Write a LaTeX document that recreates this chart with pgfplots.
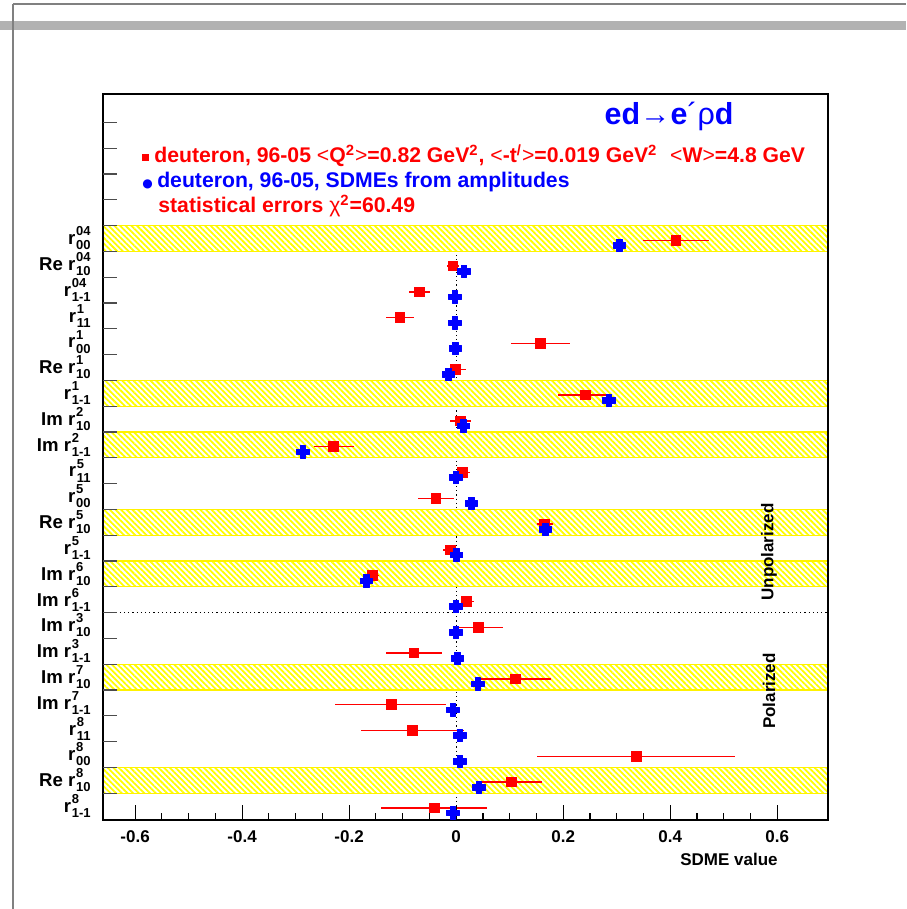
\documentclass[border=0pt]{standalone}
\usepackage{fontspec}
\setmainfont{Liberation Sans}
\newfontfamily\djv{DejaVu Sans}
\usepackage{pgfplots}
\pgfplotsset{compat=1.18}
\usepackage{pgfplotstable}
\usetikzlibrary{patterns.meta}

\pgfdeclareplotmark{fcross}{%
  \pgfpathmoveto{\pgfpoint{0.45\pgfplotmarksize}{\pgfplotmarksize}}%
  \pgfpathlineto{\pgfpoint{0.45\pgfplotmarksize}{0.45\pgfplotmarksize}}%
  \pgfpathlineto{\pgfpoint{\pgfplotmarksize}{0.45\pgfplotmarksize}}%
  \pgfpathlineto{\pgfpoint{\pgfplotmarksize}{-0.45\pgfplotmarksize}}%
  \pgfpathlineto{\pgfpoint{0.45\pgfplotmarksize}{-0.45\pgfplotmarksize}}%
  \pgfpathlineto{\pgfpoint{0.45\pgfplotmarksize}{-\pgfplotmarksize}}%
  \pgfpathlineto{\pgfpoint{-0.45\pgfplotmarksize}{-\pgfplotmarksize}}%
  \pgfpathlineto{\pgfpoint{-0.45\pgfplotmarksize}{-0.45\pgfplotmarksize}}%
  \pgfpathlineto{\pgfpoint{-\pgfplotmarksize}{-0.45\pgfplotmarksize}}%
  \pgfpathlineto{\pgfpoint{-\pgfplotmarksize}{0.45\pgfplotmarksize}}%
  \pgfpathlineto{\pgfpoint{-0.45\pgfplotmarksize}{0.45\pgfplotmarksize}}%
  \pgfpathlineto{\pgfpoint{-0.45\pgfplotmarksize}{\pgfplotmarksize}}%
  \pgfpathclose
  \pgfusepathqfillstroke
}

% r with superscript (#1) and subscript (#2); subscript is never narrower
\newcommand{\R}[2]{r\kern0.4pt\makebox[0pt][l]{\raisebox{4.4pt}{\fontsize{6.5}{6.5}\selectfont #1}}\raisebox{-2.6pt}{\fontsize{6.5}{6.5}\selectfont #2}}

\pgfplotstableread{
y x em ep
0.07 0.411 0.061 0.061
1.07 -0.006 0.011 0.012
2.07 -0.069 0.020 0.021
3.07 -0.105 0.026 0.026
4.07 0.158 0.055 0.055
5.07 -0.001 0.014 0.020
6.07 0.241 0.051 0.051
7.07 0.008 0.019 0.020
8.07 -0.229 0.037 0.039
9.07 0.012 0.012 0.014
10.07 -0.038 0.033 0.034
11.07 0.165 0.014 0.016
12.07 -0.011 0.013 0.012
13.07 -0.157 0.011 0.012
14.07 0.019 0.010 0.015
15.07 0.042 0.045 0.045
16.07 -0.079 0.052 0.053
17.07 0.111 0.067 0.067
18.07 -0.121 0.105 0.102
19.07 -0.082 0.096 0.096
20.07 0.337 0.186 0.184
21.07 0.103 0.057 0.057
22.07 -0.041 0.099 0.099
}\redtab

\pgfplotstableread{
y x
0.27 0.305
1.27 0.015
2.27 -0.002
3.27 -0.002
4.27 -0.001
5.27 -0.014
6.27 0.286
7.27 0.014
8.27 -0.286
9.27 0.000
10.27 0.029
11.27 0.167
12.27 0.001
13.27 -0.168
14.27 0.000
15.27 0.000
16.27 0.003
17.27 0.041
18.27 -0.006
19.27 0.007
20.27 0.007
21.27 0.043
22.27 -0.006
}\bluetab

\tikzset{band/.style={preaction={fill=white},
  pattern={Lines[angle=-45,distance=2pt,line width=0.9pt]}, pattern color=yellow,
  draw=yellow, line width=0.6pt}}

\begin{document}
\begin{tikzpicture}
\path[use as bounding box] (0pt,0pt) rectangle (453pt,454.5pt);
% page frame
\fill[gray!60] (0pt,439.5pt) rectangle (453pt,444pt);
\draw[gray, line width=0.6pt] (6.5pt,452.5pt) -- (453pt,452.5pt);
\draw[gray, line width=0.6pt] (6.5pt,452.5pt) -- (6.5pt,0pt);

\begin{axis}[
  at={(51.5pt,44.5pt)}, anchor=south west,
  scale only axis, width=362.5pt, height=362.75pt,
  xmin=-0.66, xmax=0.695, ymin=-5.58, ymax=22.54, y dir=reverse,
  axis on top,
  axis line style={line width=1pt},
  tick align=inside, xtick pos=bottom, ytick pos=left,
  xtick={-0.6,-0.4,-0.2,0,0.2,0.4,0.6},
  xticklabels={-0.6,-0.4,-0.2,0,0.2,0.4,0.6},
  minor x tick num=3,
  major tick length=7.5pt, minor tick length=3.5pt,
  x tick style={black, line width=0.6pt},
  xticklabel style={font=\bfseries\fontsize{8.5}{10}\selectfont, yshift=-2pt},
  ytick={0,...,22},
  y tick style={draw=none},
  yticklabels={\R{04}{00}, Re \R{04}{10}, \R{04}{1-1}, \R{1}{11}, \R{1}{00}, Re \R{1}{10}, \R{1}{1-1},
    Im \R{2}{10}, Im \R{2}{1-1}, \R{5}{11}, \R{5}{00}, Re \R{5}{10}, \R{5}{1-1},
    Im \R{6}{10}, Im \R{6}{1-1}, Im \R{3}{10}, Im \R{3}{1-1}, Im \R{7}{10}, Im \R{7}{1-1},
    \R{8}{11}, \R{8}{00}, Re \R{8}{10}, \R{8}{1-1}},
  yticklabel style={font=\bfseries\fontsize{9.3}{10}\selectfont, inner sep=0pt, xshift=-6pt},
  extra y ticks={-4.5,-3.5,-2.5,-1.5,-0.5,0.5,1.5,2.5,3.5,4.5,5.5,6.5,7.5,8.5,9.5,10.5,11.5,12.5,13.5,14.5,15.5,16.5,17.5,18.5,19.5,20.5,21.5},
  extra y tick labels={},
  extra y tick style={major tick length=7pt, y tick style={draw=gray!60!black, line width=0.6pt}},
  xlabel={SDME value},
  xlabel style={at={(rel axis cs:1,0)}, anchor=east, xshift=-25pt, yshift=-19.5pt, inner sep=0pt,
    font=\bfseries\fontsize{8.5}{10}\selectfont},
]
\draw[line width=0.6pt, dash pattern=on 0.6pt off 1.5pt] (axis cs:0,-0.5) -- (axis cs:0,22.54);
\path[band] (axis cs:-0.66,-0.5) rectangle (axis cs:0.695,0.5);
\path[band] (axis cs:-0.66,5.5) rectangle (axis cs:0.695,6.5);
\path[band] (axis cs:-0.66,7.5) rectangle (axis cs:0.695,8.5);
\path[band] (axis cs:-0.66,10.5) rectangle (axis cs:0.695,11.5);
\path[band] (axis cs:-0.66,12.5) rectangle (axis cs:0.695,13.5);
\path[band] (axis cs:-0.66,16.5) rectangle (axis cs:0.695,17.5);
\path[band] (axis cs:-0.66,20.5) rectangle (axis cs:0.695,21.5);
\draw[line width=0.6pt, dash pattern=on 0.6pt off 1.5pt] (axis cs:-0.66,14.5) -- (axis cs:0.695,14.5);

\addplot[only marks, mark=square*, mark size=2.4pt, color=red,
  error bars/.cd, x dir=both, x explicit, error mark=none,
  error bar style={red, line width=0.7pt}]
  table[x=x, y=y, x error plus=ep, x error minus=em] {\redtab};
\addplot[only marks, mark=fcross, mark size=3.1pt, color=blue, mark options={line width=0.5pt, line join=round}]
  table[x=x, y=y] {\bluetab};
\end{axis}

% title and legend texts
\node[text=blue, font=\bfseries\fontsize{15.2}{18}\selectfont, inner sep=0pt] at (334.5pt,396.5pt)
  {ed{\mdseries→}e{\mdseries´ρ}d};
\node[text=red, font=\bfseries\fontsize{10.6}{12}\selectfont, inner sep=0pt, anchor=base west] at (71pt,373pt)
  {\raisebox{1.2pt}{\rule{3.4pt}{3.4pt}}\hspace{2.6pt}deuteron, 96-05 {\mdseries<}Q\textsuperscript{2}{\mdseries>}=0.82 GeV\textsuperscript{2}, {\mdseries<}-t\textsuperscript{/}{\mdseries>}=0.019 GeV\textsuperscript{2}\hspace{0.6em}{\mdseries<}W{\mdseries>}=4.8 GeV};
\node[text=blue, font=\bfseries\fontsize{10.6}{12}\selectfont, inner sep=0pt, anchor=base west] at (71pt,360.5pt)
  {{\djv\mdseries\fontsize{6}{6}\selectfont ●}\hspace{2.2pt}deuteron, 96-05, SDMEs from amplitudes};
\node[text=red, font=\bfseries\fontsize{10.6}{12}\selectfont, inner sep=0pt, anchor=base west] at (79pt,348pt)
  {statistical errors {\mdseries χ}\textsuperscript{2}=60.49};
\node[font=\bfseries\fontsize{8.5}{10}\selectfont, rotate=90, inner sep=0pt] at (384.5pt,178.5pt) {Unpolarized};
\node[font=\bfseries\fontsize{8.5}{10}\selectfont, rotate=90, inner sep=0pt] at (384.5pt,109pt) {Polarized};
\end{tikzpicture}
\end{document}
